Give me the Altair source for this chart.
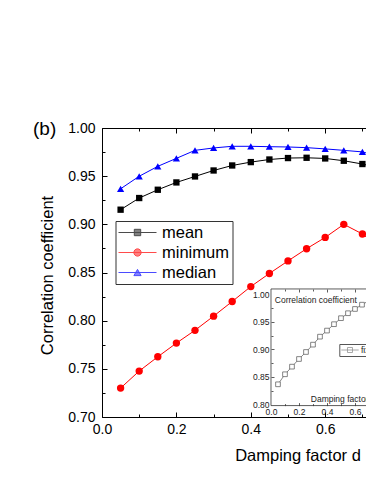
import altair as alt
import pandas as pd

# ---------------- data ----------------
d_values = [0.05, 0.10, 0.15, 0.20, 0.25, 0.30, 0.35, 0.40, 0.45, 0.50, 0.55, 0.60, 0.65, 0.70, 0.75]
mean_vals = [0.9152, 0.9273, 0.9359, 0.9435, 0.9497, 0.9559, 0.9611, 0.9646, 0.9673, 0.9688, 0.9691, 0.9684, 0.9660, 0.9626, 0.9580]
minimum_vals = [0.7300, 0.7477, 0.7625, 0.7767, 0.7900, 0.8047, 0.8199, 0.8354, 0.8490, 0.8620, 0.8747, 0.8864, 0.9000, 0.8900, 0.8750]
median_vals = [0.9369, 0.9499, 0.9602, 0.9685, 0.9768, 0.9793, 0.9810, 0.9810, 0.9806, 0.9803, 0.9796, 0.9783, 0.9768, 0.9752, 0.9700]
fixed_vals = [0.8366, 0.8548, 0.8686, 0.8825, 0.8952, 0.9085, 0.9230, 0.9340, 0.9456, 0.9565, 0.9655, 0.9732, 0.9810, 0.9883, 0.9940]

series_names = ["mean", "minimum", "median"]
series_colors = ["#000000", "#ff0000", "#0000ff"]
inset_series = ["fixed d"]

x_major = [0.0, 0.2, 0.4, 0.6]
x_ticks = [0.0, 0.1, 0.2, 0.3, 0.4, 0.5, 0.6, 0.7]
y_major = [0.70, 0.75, 0.80, 0.85, 0.90, 0.95, 1.00]
y_ticks = [0.700, 0.725, 0.750, 0.775, 0.800, 0.825, 0.850, 0.875, 0.900, 0.925, 0.950, 0.975, 1.000]
inset_x_major = [0.0, 0.2, 0.4, 0.6]
inset_x_ticks = [0.1, 0.2, 0.3, 0.4, 0.5, 0.6]
inset_y_major = [0.80, 0.85, 0.90, 0.95, 1.00]
inset_y_ticks = [0.825, 0.850, 0.875, 0.900, 0.925, 0.950, 0.975]
inset_frame = {"x": [0.0], "x2": [1.0], "y": [0.798], "y2": [1.0095]}

FONT = "Liberation Sans"
W, H = 264, 289
X_DOM = [0.0, 0.7097]
Y_DOM = [0.70, 1.00]
IX_DOM = [-1.2071, 0.6786]
IY_DOM = [0.7773, 1.3014]

long = pd.DataFrame({
    "d": d_values * 3,
    "v": mean_vals + minimum_vals + median_vals,
    "s": ["mean"] * len(d_values) + ["minimum"] * len(d_values) + ["median"] * len(d_values),
})
inset_df = pd.DataFrame({"d": d_values, "v": fixed_vals, "s": ["fixed d"] * len(d_values)})

xs = alt.Scale(domain=X_DOM, nice=False, zero=False)
ys = alt.Scale(domain=Y_DOM, nice=False, zero=False)
ixs = alt.Scale(domain=IX_DOM, nice=False, zero=False)
iys = alt.Scale(domain=IY_DOM, nice=False, zero=False)

x_axis = alt.Axis(values=x_major, format=".1f", ticks=False, domain=True, domainColor="black",
                  domainWidth=1, labelFont=FONT, labelFontSize=14, labelColor="black",
                  labelPadding=5, labelFlush=False, grid=False,
                  title="Damping factor d", titleFont=FONT, titleFontSize=16.5,
                  titleFontWeight="normal", titleColor="black", titleX=195.5, titleY=38.7,
                  titleAlign="center", titleBaseline="middle")
y_axis = alt.Axis(values=y_major, format=".2f", ticks=False, domain=True, domainColor="black",
                  domainWidth=1, labelFont=FONT, labelFontSize=14, labelColor="black",
                  labelPadding=7, labelFlush=False, grid=False,
                  title="Correlation coefficient", titleFont=FONT, titleFontSize=16.5,
                  titleFontWeight="normal", titleColor="black", titleAngle=270,
                  titleX=-54.3, titleY=147, titleAlign="center", titleBaseline="middle")

X = alt.X("d:Q", scale=xs, axis=x_axis)
Y = alt.Y("v:Q", scale=ys, axis=y_axis)


def line(name, color):
    return alt.Chart(long).transform_filter(alt.datum.s == name).mark_line(
        strokeWidth=1, color=color, clip=True
    ).encode(x=X, y=Y)


def pts(name, shape, color, size):
    return alt.Chart(long).transform_filter(alt.datum.s == name).mark_point(
        shape=shape, filled=True, size=size, color=color, opacity=1, clip=True
    ).encode(x=X, y=Y)


l_mean = line("mean", series_colors[0])
l_min = line("minimum", series_colors[1])
l_med = line("median", series_colors[2])
p_mean = pts("mean", "square", series_colors[0], 40)
p_min = pts("minimum", "circle", series_colors[1], 54)
p_med = pts("median", "triangle-up", series_colors[2], 52)

# legend symbols: short line with the marker on it (8 px per unit, drawn right of the anchor)
legend_paths = [
    "M-1.0625,0H3.6875M0.9125,-0.4H1.7125V0.4H0.9125Z",
    "M-1.0625,0H3.6875M1.7685,0A0.456,0.456 0 1,1 0.8565,0A0.456,0.456 0 1,1 1.7685,0Z",
    "M-1.0625,0H3.6875M1.3125,-0.39L1.7625,0.39H0.8625Z",
]
main_legend = alt.Legend(title=None, orient="none", legendX=13.5, legendY=93, padding=3,
                         strokeColor="#333333", fillColor="white", symbolSize=256,
                         symbolStrokeWidth=1, labelFont=FONT,
                         labelFontSize=16.5, labelColor="black", labelOffset=26.5,
                         rowPadding=3, labelLimit=300)
legend_layer = alt.Chart(long).transform_filter("false").mark_point(filled=True).encode(
    x=X, y=Y,
    shape=alt.Shape("s:N", scale=alt.Scale(domain=series_names, range=legend_paths), legend=main_legend),
    fill=alt.Fill("s:N", scale=alt.Scale(domain=series_names, range=series_colors), legend=main_legend),
    stroke=alt.Stroke("s:N", scale=alt.Scale(domain=series_names, range=series_colors), legend=main_legend),
)

main = alt.layer(l_mean, l_min, l_med, p_mean, p_min, p_med, legend_layer)

# ---- inward ticks of the main frame ----
MAJ_X = "round(datum.value*10) % 2 == 0"
MAJ_Y = "round(datum.value*1000) % 50 == 0"

tick_df = pd.DataFrame({"a": [0.1], "b": [0.8]})
ticksA = alt.Chart(tick_df).mark_point(opacity=0).encode(
    x=alt.X("a:Q", scale=xs, axis=alt.Axis(orient="top", offset=-H, values=x_ticks, labels=False,
                                           domain=False, grid=False, title=None, tickColor="black",
                                           tickWidth=1, zindex=1,
                                           tickSize={"condition": {"test": MAJ_X, "value": 5}, "value": 3})),
    y=alt.Y("b:Q", scale=ys, axis=alt.Axis(orient="right", offset=-W, values=y_ticks, labels=False,
                                           domain=False, grid=False, title=None, tickColor="black",
                                           tickWidth=1, zindex=1,
                                           tickSize={"condition": {"test": MAJ_Y, "value": 5}, "value": 3})),
)
ticksB = alt.Chart(tick_df).mark_point(opacity=0).encode(
    x=alt.X("a:Q", scale=xs, axis=alt.Axis(orient="bottom", offset=-H, values=x_ticks, labels=False,
                                           domain=True, domainColor="black", domainWidth=1,
                                           grid=False, title=None, tickColor="black", tickWidth=1,
                                           zindex=1,
                                           tickSize={"condition": {"test": MAJ_X, "value": 5}, "value": 3})),
)

# ---- inset ----
inset_x_axis = alt.Axis(orient="bottom", offset=-11.4, values=inset_x_major,
                        format=".1f", ticks=False, domain=False, grid=False, zindex=2,
                        labelFont=FONT, labelFontSize=8.5, labelColor="#222222",
                        labelPadding=1.7, labelFlush=False,
                        title="Damping factor d", titleFont=FONT, titleFontSize=8.5,
                        titleFontWeight="normal", titleColor="#222222",
                        titleX=208.3, titleY=-7.3, titleAlign="left", titleBaseline="middle")
inset_y_axis = alt.Axis(orient="left", offset=-169, values=inset_y_major,
                        format=".2f", ticks=False, domain=False, grid=False, zindex=2,
                        labelFont=FONT, labelFontSize=8.5, labelColor="#222222",
                        labelPadding=2, labelFlush=False,
                        title="Correlation coefficient", titleFont=FONT,
                        titleFontSize=8.5, titleFontWeight="normal",
                        titleColor="#222222", titleAngle=0, titleX=3.3,
                        titleY=171, titleAlign="left", titleBaseline="middle")

frame = alt.Chart(pd.DataFrame(inset_frame)).mark_rect(
    fill="white", stroke="#333333", strokeWidth=0.8, clip=True
).encode(x=alt.X("x:Q", scale=ixs, axis=inset_x_axis), x2="x2:Q",
         y=alt.Y("y:Q", scale=iys, axis=inset_y_axis), y2="y2:Q")
IX = alt.X("d:Q", scale=ixs, axis=inset_x_axis)
IY = alt.Y("v:Q", scale=iys, axis=inset_y_axis)
inset_line = alt.Chart(inset_df).mark_line(color="#666666", strokeWidth=0.8, clip=True).encode(x=IX, y=IY)
inset_pts = alt.Chart(inset_df).mark_point(shape="square", filled=True, fill="white", stroke="#666666",
                                           strokeWidth=0.8, size=22, opacity=1, clip=True).encode(x=IX, y=IY)
# inset legend symbol (4 px per unit, drawn right of the anchor)
inset_legend = alt.Legend(title=None, orient="none", legendX=237.3, legendY=216, padding=1.5,
                          strokeColor="#555555", fillColor="white", symbolSize=64,
                          symbolStrokeWidth=0.8, labelFont=FONT,
                          labelFontSize=8.5, labelColor="#222222", labelOffset=11.2,
                          labelLimit=300)
inset_path = ["M-1.0,0H3.35M0.55,-0.625H1.8V0.625H0.55Z"]
inset_leg_layer = alt.Chart(inset_df).transform_filter("false").mark_point(filled=True).encode(
    x=IX, y=IY,
    shape=alt.Shape("s:N", scale=alt.Scale(domain=inset_series, range=inset_path), legend=inset_legend),
    fill=alt.Fill("s:N", scale=alt.Scale(domain=inset_series, range=["white"]), legend=inset_legend),
    stroke=alt.Stroke("s:N", scale=alt.Scale(domain=inset_series, range=["#666666"]), legend=inset_legend),
)
inset = alt.layer(frame, inset_line, inset_pts, inset_leg_layer)

inset_ticksA = alt.Chart(tick_df).mark_point(opacity=0).encode(
    x=alt.X("a:Q", scale=ixs, axis=alt.Axis(orient="top", offset=-277.6, values=inset_x_ticks,
                                            labels=False, domain=False, grid=False, title=None,
                                            tickColor="#333333", tickWidth=0.8, zindex=2,
                                            tickSize={"condition": {"test": MAJ_X, "value": 3}, "value": 2})),
    y=alt.Y("b:Q", scale=iys, axis=alt.Axis(orient="right", offset=-(W - 169), values=inset_y_ticks,
                                            labels=False, domain=False, grid=False, title=None,
                                            tickColor="#333333", tickWidth=0.8, zindex=2,
                                            tickSize={"condition": {"test": MAJ_Y, "value": 3}, "value": 2})),
)
inset_ticksB = alt.Chart(tick_df).mark_point(opacity=0).encode(
    x=alt.X("a:Q", scale=ixs, axis=alt.Axis(orient="bottom", offset=-128, values=inset_x_ticks,
                                            labels=False, domain=False, grid=False, title=None,
                                            tickColor="#333333", tickWidth=0.8, zindex=2,
                                            tickSize={"condition": {"test": MAJ_X, "value": 3}, "value": 2})),
)

chart = alt.layer(main, ticksA, ticksB, inset, inset_ticksA, inset_ticksB).resolve_scale(
    x="independent", y="independent", shape="independent", fill="independent",
    stroke="independent"
).properties(
    width=W, height=H,
    autosize=alt.AutoSizeParams(type="none"),
    padding={"left": 94, "top": 120, "right": 0, "bottom": 57},
    title=alt.Title(text="(b)", anchor="start", orient="top", frame="group", dx=-69, dy=27,
                    offset=0, baseline="middle", fontSize=19, fontWeight="normal", font=FONT,
                    color="black"),
).configure_view(strokeWidth=0).configure(background="white", font=FONT)

chart.save("out.html", embed_options={"renderer": "svg", "actions": False})
